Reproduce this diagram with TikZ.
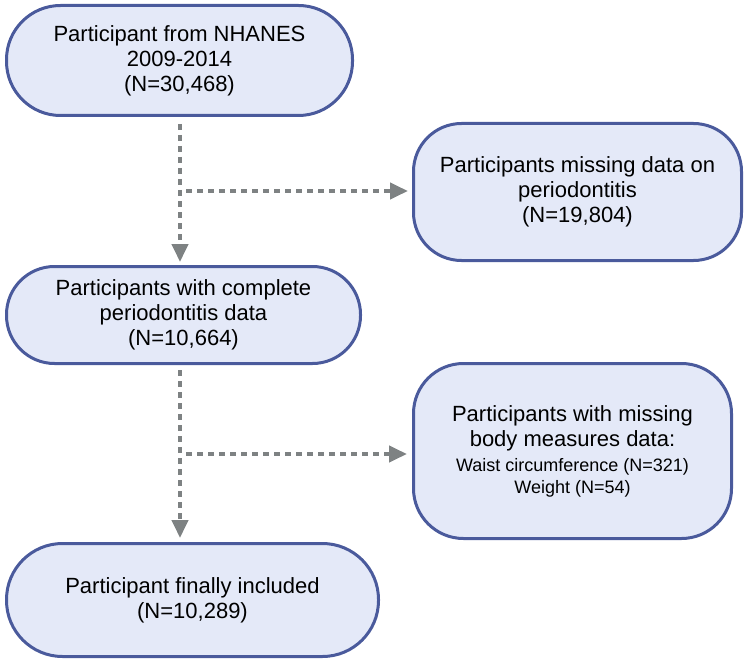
\documentclass[tikz,border=0pt]{standalone}
\usepackage{fontspec}
\setmainfont{Liberation Sans}
\usetikzlibrary{arrows.meta,calc}
\definecolor{boxfill}{HTML}{E4E9F8}
\definecolor{boxline}{HTML}{4A5A9C}
\definecolor{flowgray}{HTML}{7E8283}
\begin{document}
\begin{tikzpicture}[x=1pt,y=-1pt,
  box/.style={draw=boxline,fill=boxfill,line width=3pt,inner sep=0pt,align=center,
    font=\fontsize{22}{25}\selectfont},
  small/.style={font=\fontsize{18}{21}\selectfont},
  flow/.style={draw=flowgray,line width=4pt,dash pattern=on 6pt off 5pt,
    -{Triangle[width=16pt,length=18pt]}}]
\useasboundingbox (0,0) rectangle (750,666);
\node[box,minimum width=346pt,minimum height=110pt,rounded corners=54pt] (b1) at (179.5,60.5)
  {Participant from NHANES\\2009-2014\\(N=30,468)};
\node[box,minimum width=328pt,minimum height=137pt,rounded corners=48pt] (b2) at (577.5,192)
  {Participants missing data on\\periodontitis\\(N=19,804)};
\node[box,minimum width=354pt,minimum height=97pt,rounded corners=48pt] (b3) at (183.5,315)
  {Participants with complete\\periodontitis data\\(N=10,664)};
\node[box,minimum width=318pt,minimum height=175pt,rounded corners=50pt] (b4) at (572.5,451)
  {Participants with missing\\body measures data:\\{\fontsize{18}{21}\selectfont Waist circumference (N=321)}\\[-3pt]{\fontsize{18}{21}\selectfont Weight (N=54)}};
\node[box,minimum width=372pt,minimum height=113pt,rounded corners=56pt] (b5) at (192.5,600)
  {Participant finally included\\(N=10,289)};
\coordinate (t1) at (180,124);
\coordinate (j1) at (186,191);
\coordinate (t2) at (180,370);
\coordinate (j2) at (186,454);
\draw[flow,shorten >=3pt] (t1) -- (t1 |- b3.north);
\draw[flow,shorten >=4pt] (j1) -- (j1 -| b2.west);
\draw[flow,shorten >=4pt] (t2) -- (t2 |- b5.north);
\draw[flow,shorten >=5pt] (j2) -- (j2 -| b4.west);
\end{tikzpicture}
\end{document}
